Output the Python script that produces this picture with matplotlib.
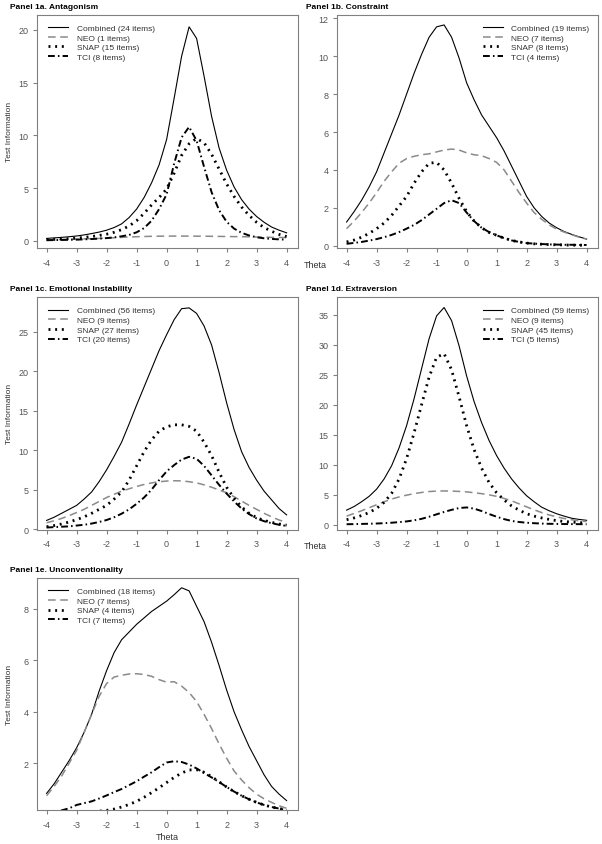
"""
Test information curves for the five personality domains
(Combined, NEO, SNAP and TCI item sets).
"""

import numpy as np
import matplotlib
matplotlib.use("Agg")
import matplotlib.pyplot as plt

plt.rcParams['font.family'] = ['Liberation Sans', 'DejaVu Sans']
plt.rcParams['axes.unicode_minus'] = False

# -----------------------------
# Data
# -----------------------------
theta = [-4, -3.75, -3.5, -3.25, -3, -2.75, -2.5, -2.25, -2, -1.75, -1.5, -1.25,
         -1, -0.75, -0.5, -0.25, 0, 0.25, 0.5, 0.75, 1, 1.25, 1.5, 1.75,
         2, 2.25, 2.5, 2.75, 3, 3.25, 3.5, 3.75, 4]

# Panel 1a. Antagonism
a_combined = [0.22, 0.27, 0.32, 0.38, 0.45, 0.55, 0.68, 0.82, 1.0, 1.25, 1.6, 2.2,
              3.0, 4.1, 5.5, 7.2, 9.6, 13.5, 17.5, 20.3, 19.2, 15.6, 11.8, 8.8,
              6.7, 5.1, 3.9, 3.0, 2.3, 1.75, 1.3, 1.0, 0.75]
a_neo = [0.1, 0.11, 0.12, 0.14, 0.15, 0.17, 0.2, 0.22, 0.25, 0.28, 0.32, 0.35,
         0.38, 0.4, 0.42, 0.43, 0.44, 0.44, 0.44, 0.44, 0.43, 0.43, 0.42, 0.41,
         0.4, 0.39, 0.38, 0.37, 0.35, 0.34, 0.32, 0.31, 0.3]
a_snap = [0.1, 0.12, 0.15, 0.2, 0.25, 0.32, 0.4, 0.5, 0.62, 0.8, 1.05, 1.4,
          1.9, 2.6, 3.4, 4.1, 4.9, 6.4, 8.1, 9.2, 9.7, 9.3, 8.2, 6.8,
          5.4, 4.2, 3.2, 2.4, 1.75, 1.25, 0.9, 0.6, 0.4]
a_tci = [0.05, 0.06, 0.07, 0.09, 0.1, 0.13, 0.16, 0.2, 0.25, 0.32, 0.42, 0.55,
         0.8, 1.2, 1.9, 3.0, 4.4, 7.3, 9.8, 10.8, 9.5, 7.0, 4.6, 2.9,
         1.8, 1.15, 0.75, 0.5, 0.33, 0.23, 0.17, 0.13, 0.1]

# Panel 1b. Constraint
b_combined = [1.25, 1.8, 2.4, 3.1, 3.9, 4.9, 5.9, 6.9, 8.0, 9.1, 10.1, 11.0,
              11.55, 11.65, 11.0, 9.9, 8.6, 7.7, 6.9, 6.3, 5.7, 5.0, 4.2, 3.4,
              2.6, 2.0, 1.55, 1.2, 0.95, 0.75, 0.6, 0.47, 0.35]
b_neo = [0.9, 1.3, 1.75, 2.25, 2.8, 3.4, 3.9, 4.35, 4.6, 4.72, 4.8, 4.85,
         4.95, 5.05, 5.1, 5.05, 4.9, 4.8, 4.75, 4.6, 4.4, 4.0, 3.4, 2.8,
         2.25, 1.75, 1.4, 1.1, 0.88, 0.72, 0.58, 0.45, 0.35]
b_snap = [0.2, 0.3, 0.45, 0.65, 0.9, 1.2, 1.6, 2.1, 2.6, 3.3, 3.9, 4.35,
          4.4, 4.0, 3.3, 2.5, 1.8, 1.3, 0.95, 0.7, 0.55, 0.4, 0.28, 0.2,
          0.14, 0.1, 0.08, 0.06, 0.05, 0.04, 0.03, 0.03, 0.02]
b_tci = [0.1, 0.15, 0.2, 0.27, 0.35, 0.45, 0.57, 0.72, 0.9, 1.1, 1.35, 1.65,
         1.95, 2.25, 2.4, 2.25, 1.75, 1.3, 0.95, 0.72, 0.55, 0.4, 0.28, 0.2,
         0.14, 0.11, 0.09, 0.07, 0.06, 0.05, 0.05, 0.04, 0.04]

# Panel 1c. Emotional Instability
c_combined = [1.1, 1.5, 2.0, 2.5, 3.0, 3.8, 4.7, 6.0, 7.5, 9.2, 11.0, 13.3,
              15.7, 18.0, 20.3, 22.6, 24.6, 26.5, 27.9, 28.0, 27.3, 25.7, 23.3, 19.8,
              16.0, 12.6, 9.8, 7.8, 6.2, 4.8, 3.7, 2.6, 1.8]
c_neo = [0.8, 1.05, 1.35, 1.7, 2.1, 2.5, 3.0, 3.5, 4.0, 4.4, 4.8, 5.1,
         5.4, 5.65, 5.85, 6.0, 6.08, 6.12, 6.1, 6.0, 5.85, 5.6, 5.3, 4.95,
         4.6, 4.1, 3.55, 3.0, 2.5, 2.0, 1.55, 1.15, 0.85]
c_snap = [0.3, 0.45, 0.65, 0.9, 1.2, 1.55, 2.0, 2.5, 3.0, 3.8, 4.7, 6.2,
          8.0, 9.8, 11.3, 12.4, 12.95, 13.2, 13.2, 13.0, 12.4, 11.0, 9.3, 7.2,
          5.3, 3.9, 2.8, 2.0, 1.45, 1.1, 0.85, 0.65, 0.5]
c_tci = [0.2, 0.25, 0.3, 0.35, 0.45, 0.55, 0.7, 0.9, 1.15, 1.5, 1.95, 2.5,
         3.2, 4.0, 5.0, 6.2, 7.3, 8.1, 8.8, 9.15, 8.9, 8.0, 6.8, 5.6,
         4.5, 3.5, 2.6, 1.9, 1.35, 1.0, 0.75, 0.55, 0.4]

# Panel 1d. Extraversion
d_combined = [2.4, 3.0, 3.8, 4.7, 5.9, 7.6, 9.8, 12.8, 16.5, 21.0, 26.0, 31.0,
              34.8, 36.2, 34.0, 29.8, 24.8, 20.5, 17.0, 14.0, 11.5, 9.4, 7.6, 6.1,
              4.8, 3.8, 2.9, 2.3, 1.8, 1.4, 1.05, 0.85, 0.7]
d_neo = [1.4, 1.85, 2.3, 2.8, 3.3, 3.8, 4.25, 4.6, 4.9, 5.15, 5.35, 5.5,
         5.58, 5.6, 5.58, 5.52, 5.45, 5.3, 5.15, 4.95, 4.7, 4.35, 3.95, 3.45,
         2.95, 2.45, 2.0, 1.6, 1.3, 1.0, 0.8, 0.62, 0.5]
d_snap = [0.8, 1.1, 1.5, 2.0, 2.7, 3.7, 5.2, 7.6, 11.0, 15.3, 20.0, 24.6,
          27.9, 28.5, 25.8, 21.3, 16.5, 12.5, 9.4, 7.0, 5.3, 4.1, 3.1, 2.4,
          1.8, 1.4, 1.1, 0.85, 0.65, 0.5, 0.4, 0.32, 0.25]
d_tci = [0.05, 0.07, 0.1, 0.13, 0.17, 0.22, 0.3, 0.4, 0.52, 0.7, 0.95, 1.3,
         1.7, 2.1, 2.45, 2.75, 2.85, 2.65, 2.25, 1.75, 1.3, 0.9, 0.6, 0.42,
         0.3, 0.22, 0.16, 0.12, 0.1, 0.08, 0.07, 0.06, 0.05]

# Panel 1e. Unconventionality
e_combined = [0.83, 1.2, 1.65, 2.1, 2.6, 3.2, 3.9, 4.8, 5.6, 6.3, 6.8, 7.1,
              7.4, 7.65, 7.9, 8.1, 8.3, 8.55, 8.82, 8.7, 8.1, 7.5, 6.7, 5.8,
              4.85, 4.0, 3.3, 2.65, 2.1, 1.55, 1.1, 0.8, 0.55]
e_neo = [0.74, 1.1, 1.5, 2.0, 2.5, 3.2, 3.9, 4.6, 5.1, 5.35, 5.42, 5.47,
         5.48, 5.45, 5.38, 5.25, 5.15, 5.17, 5.0, 4.75, 4.4, 3.9, 3.35, 2.75,
         2.2, 1.7, 1.35, 1.05, 0.8, 0.62, 0.48, 0.35, 0.25]
e_snap = [0.02, 0.03, 0.04, 0.05, 0.07, 0.09, 0.11, 0.14, 0.17, 0.22, 0.3, 0.4,
          0.52, 0.68, 0.86, 1.05, 1.25, 1.45, 1.62, 1.74, 1.75, 1.65, 1.48, 1.28,
          1.08, 0.9, 0.74, 0.6, 0.48, 0.38, 0.3, 0.24, 0.18]
e_tci = [0.08, 0.12, 0.17, 0.25, 0.38, 0.45, 0.52, 0.63, 0.75, 0.88, 1.0, 1.15,
         1.3, 1.48, 1.65, 1.85, 2.03, 2.08, 2.05, 1.95, 1.8, 1.62, 1.45, 1.27,
         1.08, 0.9, 0.74, 0.6, 0.48, 0.38, 0.3, 0.24, 0.18]

panels = [
    ("Panel 1a. Antagonism", [a_combined, a_neo, a_snap, a_tci],
     ["Combined (24 items)", "NEO (1 items)", "SNAP (15 items)", "TCI (8 items)"]),
    ("Panel 1b. Constraint", [b_combined, b_neo, b_snap, b_tci],
     ["Combined (19 items)", "NEO (7 items)", "SNAP (8 items)", "TCI (4 items)"]),
    ("Panel 1c. Emotional Instability", [c_combined, c_neo, c_snap, c_tci],
     ["Combined (56 items)", "NEO (9 items)", "SNAP (27 items)", "TCI (20 items)"]),
    ("Panel 1d. Extraversion", [d_combined, d_neo, d_snap, d_tci],
     ["Combined (59 items)", "NEO (9 items)", "SNAP (45 items)", "TCI (5 items)"]),
    ("Panel 1e. Unconventionality", [e_combined, e_neo, e_snap, e_tci],
     ["Combined (18 items)", "NEO (7 items)", "SNAP (4 items)", "TCI (7 items)"]),
]

yticks = [[0, 5, 10, 15, 20], [0, 2, 4, 6, 8, 10, 12], [0, 5, 10, 15, 20, 25],
          [0, 5, 10, 15, 20, 25, 30, 35], [2, 4, 6, 8]]

# -----------------------------
# Layout (figure fractions)
# -----------------------------
W, H = 602, 845
ylims = [(-0.69, 21.45), (-0.12, 12.19), (-0.05, 29.34), (-0.83, 37.9), (0.196, 9.2)]
boxes = [(36.7, 15.7, 249.0), (336.7, 15.7, 249.0), (36.7, 298.3, 530.5),
         (336.7, 298.3, 530.5), (36.7, 579.0, 810.7)]
ax_w = 261.0

styles = [
    dict(color="black", lw=0.8, ls="-"),
    dict(color="#8a8a8a", lw=1.1, ls=(0, (5, 3))),
    dict(color="black", lw=2.0, ls=(0, (0.7, 1.7))),
    dict(color="black", lw=1.4, ls=(0, (3.5, 1.6, 0.8, 1.6))),
]

grey = "#808080"
fig = plt.figure(figsize=(W / 100, H / 100), dpi=100)

for i, (title, series, labels) in enumerate(panels):
    left, top, bottom = boxes[i]
    ax = fig.add_axes([left / W, 1 - bottom / H, ax_w / W, (bottom - top) / H])
    for y, lab, st in zip(series, labels, styles):
        ax.plot(theta, y, label=lab, **st)
    ax.set_xlim(-4.33, 4.37)
    ax.set_ylim(*ylims[i])
    ax.set_xticks(range(-4, 5))
    ax.set_yticks(yticks[i])
    for sp in ax.spines.values():
        sp.set_color(grey)
        sp.set_linewidth(0.8)
    ax.tick_params(direction="out", length=3.2, width=0.8, color=grey,
                   labelsize=6.5, labelcolor="#555555", pad=2.5)
    ax.tick_params(axis="x", pad=4)

    lx = 0.043 if i % 2 == 0 else 0.559
    ax.legend(loc="upper left", bbox_to_anchor=(lx, 0.96), frameon=False,
              fontsize=6, handlelength=2.45, handletextpad=1.0,
              labelspacing=0.22, borderpad=0, borderaxespad=0,
              labelcolor="#333333")

    tx = 10 if i % 2 == 0 else 306
    fig.text(tx / W, 1 - (top - 8.5) / H, title, fontsize=6, fontweight="bold",
             ha="left", va="center")
    if i % 2 == 0:
        fig.text(10 / W, 1 - (top + bottom) / 2 / H, "Test Information",
                 fontsize=6, rotation=90, ha="center", va="center", color="#333333")
    else:
        fig.text(315 / W, 1 - (bottom + 16) / H, "Theta", fontsize=6.5,
                 ha="center", va="center", color="#333333")
    if i == 4:
        fig.text((left + ax_w / 2) / W, 1 - 838 / H, "Theta", fontsize=6.5,
                 ha="center", va="center", color="#333333")

fig.savefig("out.png", dpi=100)
